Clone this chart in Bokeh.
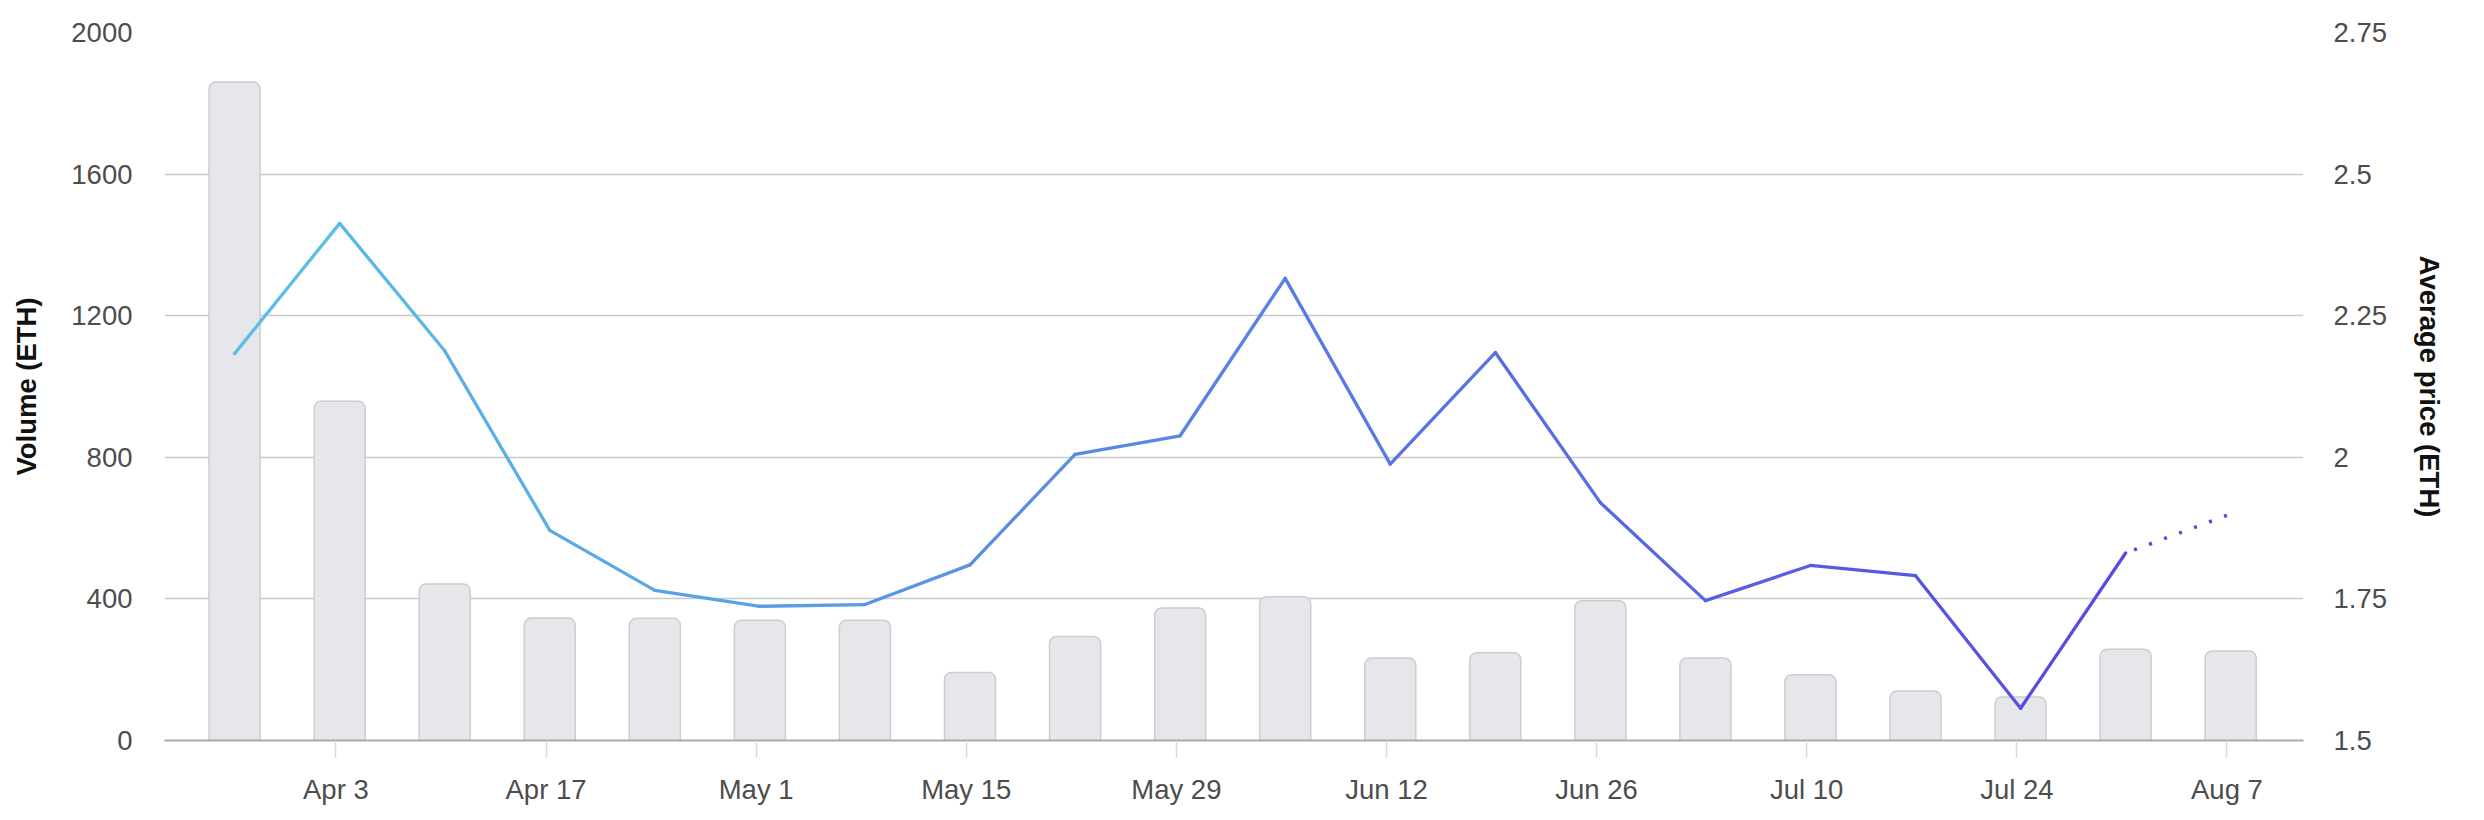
import pandas as pd
from bokeh.plotting import figure
from bokeh.models import Range1d, LinearAxis, FixedTicker, CustomJSTickFormatter
from bokeh.embed import file_html
from bokeh.resources import INLINE

# ---------------- data ----------------
week_dates = ["2023-03-27", "2023-04-03", "2023-04-10", "2023-04-17", "2023-04-24",
              "2023-05-01", "2023-05-08", "2023-05-15", "2023-05-22", "2023-05-29",
              "2023-06-05", "2023-06-12", "2023-06-19", "2023-06-26", "2023-07-03",
              "2023-07-10", "2023-07-17", "2023-07-24", "2023-07-31", "2023-08-07"]
volume_eth = [1860, 958, 442, 346, 345, 340, 340, 192, 294, 374,
              406, 233, 248, 395, 233, 186, 140, 123, 258, 253]
avg_price_eth = [2.183, 2.413, 2.188, 1.871, 1.765, 1.737, 1.740, 1.810, 2.005, 2.038,
                 2.316, 1.988, 2.185, 1.920, 1.747, 1.809, 1.791, 1.557, 1.831, 1.900]

x_tick_dates = ["2023-04-03", "2023-04-17", "2023-05-01", "2023-05-15", "2023-05-29",
                "2023-06-12", "2023-06-26", "2023-07-10", "2023-07-24", "2023-08-07"]
x_tick_labels = ["Apr 3", "Apr 17", "May 1", "May 15", "May 29",
                 "Jun 12", "Jun 26", "Jul 10", "Jul 24", "Aug 7"]
volume_ticks = [0, 400, 800, 1200, 1600, 2000]
price_ticks = [1.5, 1.75, 2, 2.25, 2.5, 2.75]

volume_title = "Volume (ETH)"
price_title = "Average price (ETH)"

# ---------------- helpers / styles ----------------
DAY = 86400000
HOUR = 3600000


def ms(s):
    return int(pd.Timestamp(s).value // 10**6)


FONT = "Liberation Sans"
FS = "27.5px"
LABEL_COLOR = "#4d4d4d"
start_rgb = (92, 192, 230)
end_rgb = (86, 66, 226)

bar_x = [ms(d) + 6 * HOUR for d in week_dates]
tick_ms = [ms(d) for d in x_tick_dates]

x_start = ms(x_tick_dates[0]) - 11.42 * DAY
x_end = ms(x_tick_dates[-1]) + 5.1 * DAY

p = figure(frame_width=2139, frame_height=708,
           min_border_left=164, min_border_right=170,
           min_border_top=32, min_border_bottom=72,
           x_range=Range1d(x_start, x_end), y_range=Range1d(0, 2000),
           output_backend="svg", toolbar_location=None,
           background_fill_color="white", border_fill_color="white")
p.outline_line_color = None
p.extra_y_ranges = {"price": Range1d(1.5, 2.75)}

# grid
p.xgrid.visible = False
p.ygrid.ticker = FixedTicker(ticks=volume_ticks)
p.ygrid.grid_line_color = "#c9c9c9"
p.ygrid.grid_line_width = 1.5

# x axis
xa = p.xaxis[0]
xa.ticker = FixedTicker(ticks=tick_ms)
xa.formatter = CustomJSTickFormatter(args=dict(tick_vals=tick_ms, tick_names=x_tick_labels),
                                     code="const i = tick_vals.indexOf(tick); return i >= 0 ? tick_names[i] : '';")
xa.axis_line_color = "#aaaaaa"
xa.axis_line_width = 2
xa.major_tick_line_color = "#d9d9d9"
xa.major_tick_line_width = 1.5
xa.major_tick_in = 0
xa.major_tick_out = 17
xa.minor_tick_line_color = None
xa.major_label_standoff = 16
xa.major_label_text_font = FONT
xa.major_label_text_font_size = FS
xa.major_label_text_color = LABEL_COLOR

# left axis
ya = p.yaxis[0]
ya.ticker = FixedTicker(ticks=volume_ticks)
ya.axis_line_color = None
ya.major_tick_line_color = None
ya.minor_tick_line_color = None
ya.major_tick_out = 0
ya.major_tick_in = 0
ya.major_label_standoff = 32
ya.major_label_text_font = FONT
ya.major_label_text_font_size = FS
ya.major_label_text_color = LABEL_COLOR
ya.axis_label = volume_title
ya.axis_label_text_font = FONT
ya.axis_label_text_font_size = FS
ya.axis_label_text_font_style = "bold"
ya.axis_label_text_color = "#111111"
ya.axis_label_standoff = 26

# right axis
ra = LinearAxis(y_range_name="price")
ra.ticker = FixedTicker(ticks=price_ticks)
ra.formatter = CustomJSTickFormatter(code="return String(tick);")
ra.axis_line_color = None
ra.major_tick_line_color = None
ra.minor_tick_line_color = None
ra.major_tick_out = 0
ra.major_tick_in = 0
ra.major_label_standoff = 30
ra.major_label_text_font = FONT
ra.major_label_text_font_size = FS
ra.major_label_text_color = LABEL_COLOR
ra.axis_label = price_title
ra.axis_label_text_font = FONT
ra.axis_label_text_font_size = FS
ra.axis_label_text_font_style = "bold"
ra.axis_label_text_color = "#111111"
ra.axis_label_standoff = 24
p.add_layout(ra, "right")

# bars
p.vbar(x=bar_x, width=3.4 * DAY, top=volume_eth, bottom=0,
       fill_color="#e6e7eb", line_color="#cdcdd1", line_width=1.5,
       border_radius=(7, 7, 0, 0))

# gradient price line (solid up to the second-to-last point)
n = len(bar_x)
x_first, x_last = bar_x[0], bar_x[-1]


def col_at(x):
    f = (x - x_first) / (x_last - x_first)
    r, g, b = (round(a + (c - a) * f) for a, c in zip(start_rgb, end_rgb))
    return "#%02x%02x%02x" % (r, g, b)


x0 = bar_x[:n - 2]
x1 = bar_x[1:n - 1]
y0 = avg_price_eth[:n - 2]
y1 = avg_price_eth[1:n - 1]
cols = [col_at((a + b) / 2) for a, b in zip(x0, x1)]
p.segment(x0=x0, y0=y0, x1=x1, y1=y1, line_color=cols, line_width=3.3,
          line_cap="round", y_range_name="price")

# dotted last segment
p.line(x=bar_x[n - 2:], y=avg_price_eth[n - 2:], line_color=col_at(x_last),
       line_width=3.5, line_dash="3 13", line_dash_offset=7, y_range_name="price")

open("out.html", "w").write(file_html(p, INLINE))
